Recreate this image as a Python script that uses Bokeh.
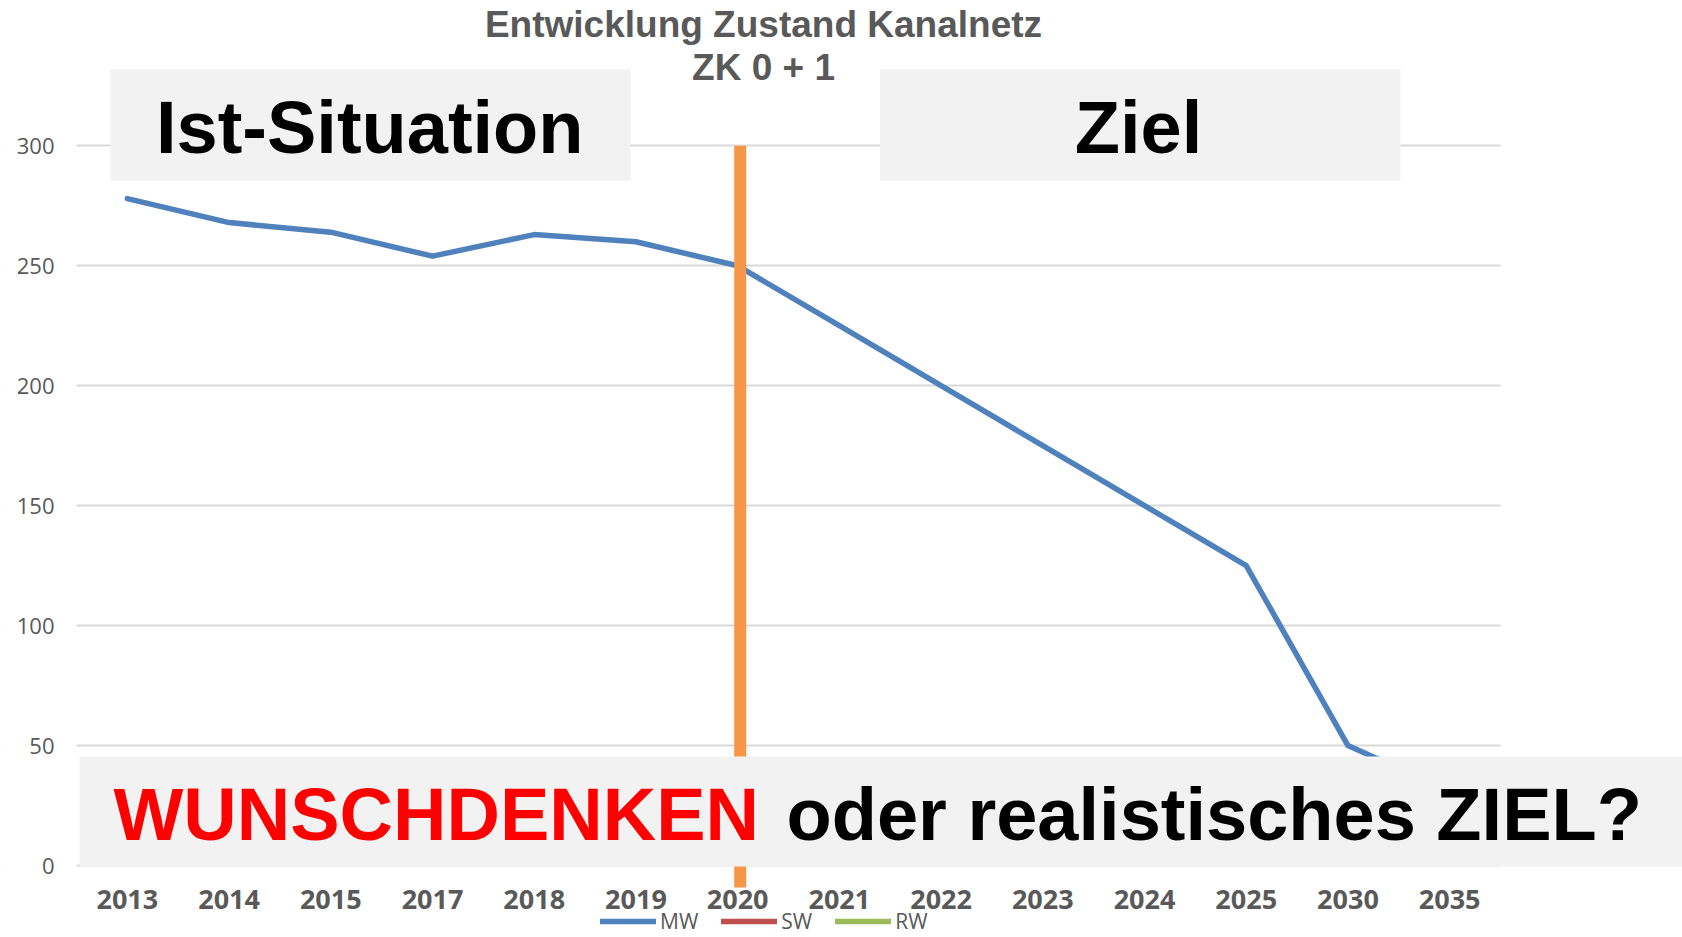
import numpy as np
from bokeh.plotting import figure
from bokeh.models import (Range1d, FixedTicker, BoxAnnotation, Label,
                          Legend, LegendItem)
from bokeh.embed import file_html
from bokeh.resources import INLINE

# ---- data ----
categories = ["2013", "2014", "2015", "2017", "2018", "2019", "2020",
              "2021", "2022", "2023", "2024", "2025", "2030", "2035"]
mw_values = [278, 268, 264, 254, 263, 260, 250, 225, 200, 175, 150, 125, 50, 31]
# SW and RW appear only in the legend: no values are shown for them
sw_values = np.full(len(categories), np.nan)
rw_values = np.full(len(categories), np.nan)
y_ticks = [0, 50, 100, 150, 200, 250, 300]
series_names = ["MW", "SW", "RW"]
series_colors = ["#4F81BD", "#C0504D", "#9BBB59"]

title_lines = ["Entwicklung Zustand Kanalnetz", "ZK 0 + 1"]
left_box_text = "Ist-Situation"
right_box_text = "Ziel"
bottom_text_red = "WUNSCHDENKEN"
bottom_text_black = "oder realistisches ZIEL?"
marker_year = "2020"
marker_top = 300

# category slots on a numeric axis (slot i is centred at i + 0.5)
x_pos = [i + 0.5 for i in range(len(categories))]
n_slots = len(categories)
marker_x = x_pos[categories.index(marker_year)] + 0.025

X_START, X_END = -0.7472, 15.789
Y_START, Y_END = -30.0, 360.57
X_AXIS_AT = -9.17          # where the category axis sits (below the 0 line)

p = figure(x_range=Range1d(X_START, X_END), y_range=Range1d(Y_START, Y_END),
           width=1682, height=937, output_backend="svg", toolbar_location=None,
           min_border=0)
p.outline_line_color = None
p.background_fill_color = "white"

# axes (placed inside the canvas at fixed data positions)
p.yaxis.fixed_location = 0
p.yaxis.ticker = FixedTicker(ticks=y_ticks)
p.yaxis.axis_line_color = None
p.yaxis.major_tick_line_color = None
p.yaxis.minor_tick_line_color = None
p.yaxis.major_tick_out = 0
p.yaxis.major_tick_in = 0
p.yaxis.major_label_standoff = 22
p.yaxis.major_label_text_font = "Open Sans"
p.yaxis.major_label_text_font_size = "22px"
p.yaxis.major_label_text_color = "#595959"

p.xaxis.fixed_location = X_AXIS_AT
p.xaxis.ticker = FixedTicker(ticks=x_pos)
p.xaxis.major_label_overrides = {x: c for x, c in zip(x_pos, categories)}
p.xaxis.axis_line_color = None
p.xaxis.major_tick_line_color = None
p.xaxis.minor_tick_line_color = None
p.xaxis.major_tick_out = 0
p.xaxis.major_tick_in = 0
p.xaxis.major_label_standoff = 2
p.xaxis.major_label_text_font = "Open Sans"
p.xaxis.major_label_text_font_style = "bold"
p.xaxis.major_label_text_font_size = "27px"
p.xaxis.major_label_text_color = "#595959"

p.xgrid.visible = False
p.ygrid.grid_line_color = "#D9D9D9"
p.ygrid.grid_line_width = 2

# gridlines only span the category slots: blank the margins left and right
p.add_layout(BoxAnnotation(right=0, fill_color="white", fill_alpha=1,
                           line_color=None, level="underlay"))
p.add_layout(BoxAnnotation(left=n_slots, fill_color="white", fill_alpha=1,
                           line_color=None, level="underlay"))

# series
mw_r = p.line(x_pos, mw_values, line_color=series_colors[0], line_width=5.5,
              line_cap="round", line_join="round")
sw_r = p.line(x_pos, sw_values, line_color=series_colors[1], line_width=5.5,
              line_cap="round")
rw_r = p.line(x_pos, rw_values, line_color=series_colors[2], line_width=5.5,
              line_cap="round")

# orange marker line at 2020
p.segment(x0=[marker_x], y0=[marker_top], x1=[marker_x], y1=[X_AXIS_AT],
          line_color="#F79646", line_width=12)

# grey boxes
box_fill = "#F2F2F2"
p.add_layout(BoxAnnotation(left=0.334, right=5.447, bottom=285.5, top=331.8,
                           fill_color=box_fill, fill_alpha=1, line_color=None))
p.add_layout(BoxAnnotation(left=7.90, right=13.017, bottom=285.5, top=331.8,
                           fill_color=box_fill, fill_alpha=1, line_color=None))
p.add_layout(BoxAnnotation(left=0.03, bottom=-0.4, top=45.4,
                           fill_color=box_fill, fill_alpha=1, line_color=None))

# texts
big = dict(text_font="Liberation Sans", text_font_style="bold",
           text_font_size="74px", text_baseline="alphabetic")
p.add_layout(Label(x=2.883, y=307.7, text=left_box_text, text_align="center",
                   text_color="black", **big))
p.add_layout(Label(x=10.441, y=307.7, text=right_box_text, text_align="center",
                   text_color="black", **big))
p.add_layout(Label(x=0.364, y=21.3, text=bottom_text_red, text_align="left",
                   text_color="#FF0000", **big))
p.add_layout(Label(x=6.98, y=21.3, text=bottom_text_black, text_align="left",
                   text_color="black", **big))

ttl = dict(text_font="Liberation Sans", text_font_style="bold",
           text_font_size="37px", text_baseline="alphabetic",
           text_align="center", text_color="#595959")
p.add_layout(Label(x=6.754, y=350.4, text=title_lines[0], **ttl))
p.add_layout(Label(x=6.754, y=332.6, text=title_lines[1], **ttl))

# legend
legend = Legend(items=[LegendItem(label=series_names[0], renderers=[mw_r]),
                       LegendItem(label=series_names[1], renderers=[sw_r]),
                       LegendItem(label=series_names[2], renderers=[rw_r])],
                orientation="horizontal", location=(600, 2),
                padding=0, margin=0, spacing=23, glyph_width=56, glyph_height=26,
                label_height=26, label_standoff=4,
                label_text_font="Open Sans", label_text_font_size="21px",
                label_text_color="#595959", label_text_baseline="middle",
                background_fill_alpha=0, border_line_alpha=0)
p.add_layout(legend)

open("out.html", "w").write(file_html(p, INLINE))
